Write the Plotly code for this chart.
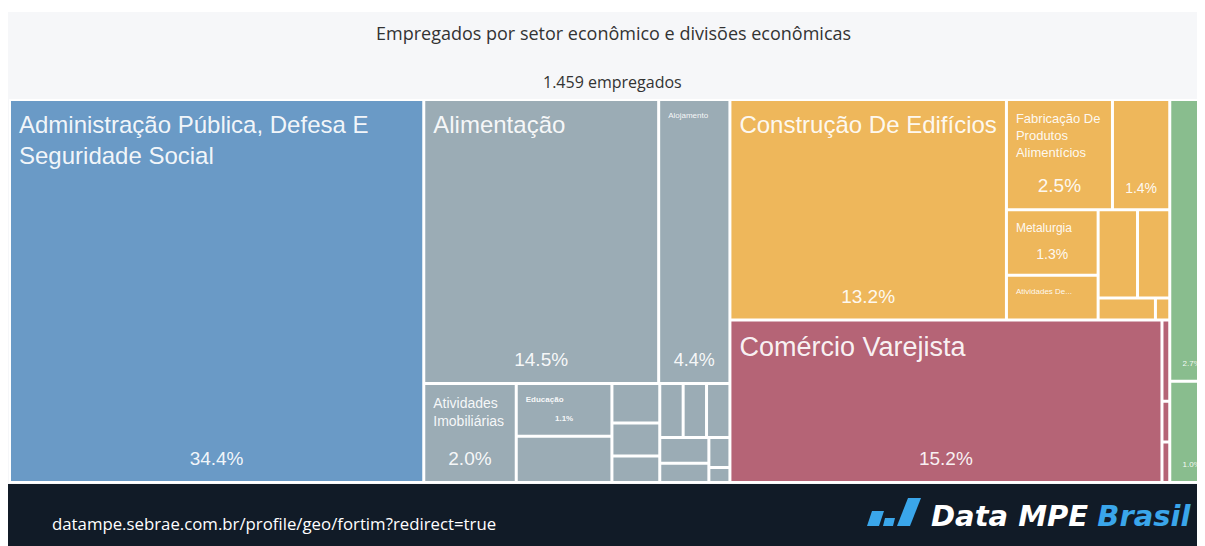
import plotly.graph_objects as go

# ---------------- dados ----------------
# setores econômicos (nível 1)
setores = ["Administração Pública", "Serviços", "Indústria", "Comércio", "Agropecuária"]

# seção intermediária dentro de Serviços
grupos = ["Alojamento e Alimentação"]
grupos_pai = ["Serviços"]

# divisões econômicas (folhas): nome, pai, número de empregados
divisoes = [
    "Administração Pública, Defesa E Seguridade Social",
    "Alimentação", "Alojamento",
    "Atividades Imobiliárias", "Educação",
    "Serviços - divisão 6", "Serviços - divisão 7", "Serviços - divisão 8",
    "Serviços - divisão 9", "Serviços - divisão 10", "Serviços - divisão 11",
    "Serviços - divisão 12", "Serviços - divisão 13", "Serviços - divisão 14",
    "Serviços - divisão 15", "Serviços - divisão 16",
    "Construção De Edifícios", "Fabricação De Produtos Alimentícios",
    "Indústria - divisão 3", "Metalurgia", "Atividades De...",
    "Indústria - divisão 6", "Indústria - divisão 7", "Indústria - divisão 8",
    "Indústria - divisão 9",
    "Comércio Varejista", "Comércio - divisão 2", "Comércio - divisão 3",
    "Comércio - divisão 4",
    "Agropecuária - divisão 1", "Agropecuária - divisão 2",
]
divisoes_pai = (
    ["Administração Pública"]
    + ["Alojamento e Alimentação"] * 2
    + ["Serviços"] * 13
    + ["Indústria"] * 9
    + ["Comércio"] * 4
    + ["Agropecuária"] * 2
)
empregados = [
    502,
    211, 64,
    29, 16, 14, 6, 5, 4, 4, 4, 4, 4, 3, 2, 1,
    193, 37, 20, 19, 13, 11, 9, 4, 1,
    222, 2, 1, 1,
    39, 14,
]

titulo = "Empregados por setor econômico e divisões econômicas"
total = sum(empregados)
subtitulo = f"{total:,} empregados".replace(",", ".")
rodape = "datampe.sebrae.com.br/profile/geo/fortim?redirect=true"

# ---------------- estilo ----------------
cores_setor = {
    "Administração Pública": "#6a9ac6",
    "Serviços": "#9bacb5",
    "Indústria": "#eeb75b",
    "Comércio": "#b56476",
    "Agropecuária": "#89bd8e",
}
# rótulo exibido (com quebras) e tamanho da fonte
rotulo_exibido = {
    "Administração Pública, Defesa E Seguridade Social": ("Administração Pública, Defesa E<br>Seguridade Social", 24),
    "Alimentação": ("Alimentação", 24),
    "Alojamento": ("Alojamento", 8),
    "Atividades Imobiliárias": ("Atividades<br>Imobiliárias", 14),
    "Educação": ("<b>Educação</b>", 8),
    "Construção De Edifícios": ("Construção De Edifícios", 24),
    "Fabricação De Produtos Alimentícios": ("Fabricação De<br>Produtos<br>Alimentícios", 13),
    "Metalurgia": ("Metalurgia", 12),
    "Atividades De...": ("Atividades De...", 8),
    "Comércio Varejista": ("Comércio Varejista", 27),
}
# percentual na base do retângulo (tamanho da fonte)
pct_embaixo = {
    "Administração Pública, Defesa E Seguridade Social": 19,
    "Alimentação": 19,
    "Alojamento": 18,
    "Atividades Imobiliárias": 19,
    "Educação": 8,
    "Construção De Edifícios": 19,
    "Fabricação De Produtos Alimentícios": 19,
    "Indústria - divisão 3": 14,
    "Metalurgia": 14,
    "Comércio Varejista": 19,
    "Agropecuária - divisão 1": 8,
    "Agropecuária - divisão 2": 8,
}

# a página tem 8 px de margem: coordenadas abaixo já são da figura
W, H = 1213, 546


def px(x):
    return x / W


def py(y):
    return 1 - y / H


# ---------------- nós da árvore ----------------
ids = setores + grupos + divisoes
parents = [""] * len(setores) + grupos_pai + divisoes_pai
values = [0] * (len(setores) + len(grupos)) + empregados

pai_de = dict(zip(ids, parents))


def setor_de(no):
    while pai_de[no] != "":
        no = pai_de[no]
    return no


cores = [cores_setor[setor_de(n)] for n in ids]
valor_de = dict(zip(divisoes, empregados))

texto1, tam1, texto2, tam2 = [], [], [], []
for n in ids:
    pct = f"{valor_de[n] / total * 100:.1f}%" if n in valor_de else ""
    rot, tam = rotulo_exibido.get(n, ("", 10))
    texto1.append(rot)
    tam1.append(tam)
    texto2.append(f"<b>{pct}</b>" if n == "Educação" else (pct if n in pct_embaixo else ""))
    tam2.append(pct_embaixo.get(n, 10))

# área do treemap (x 2..1205, y 92..474); as camadas de texto usam a
# mesma área deslocada, para afastar os textos das bordas
x0, x1, y0, y1 = 2, 1205, 92, 474


def dominio(dx=0, dy=0):
    return dict(x=[px(x0 + dx), px(x1 + dx)], y=[py(y1 + dy), py(y0 + dy)])


comum = dict(
    ids=ids, labels=ids, parents=parents, values=values,
    branchvalues="remainder", sort=True,
    tiling=dict(packing="squarify", squarifyratio=1.55, pad=1),
    pathbar=dict(visible=False),
    root=dict(color="rgba(0,0,0,0)"),
)
transparente = dict(colors=["rgba(0,0,0,0)"] * len(ids), line=dict(width=0),
                    pad=dict(t=0, l=0, r=0, b=0), depthfade=False)
fonte_txt = "Liberation Sans, Arial, sans-serif"
cor_txt = "rgba(255,255,255,0.93)"

fig = go.Figure()

# retângulos
fig.add_trace(go.Treemap(
    **comum, domain=dominio(),
    marker=dict(colors=cores, line=dict(color="white", width=2),
                pad=dict(t=0, l=0, r=0, b=0), depthfade=False),
    textinfo="none",
    hovertemplate="%{label}<br>%{value} empregados<extra></extra>",
))

# nomes no canto superior esquerdo
fig.add_trace(go.Treemap(
    **comum, domain=dominio(6, 8), marker=transparente,
    text=texto1, texttemplate="%{text}", textposition="top left",
    textfont=dict(family=fonte_txt, size=tam1, color=cor_txt),
    hoverinfo="skip",
))

# percentuais na base de cada retângulo
fig.add_trace(go.Treemap(
    **comum, domain=dominio(0, -10), marker=transparente,
    text=texto2, texttemplate="%{text}", textposition="bottom center",
    textfont=dict(family=fonte_txt, size=tam2, color=cor_txt),
    hoverinfo="skip",
))

# fundo do painel e rodapé
shapes = [
    dict(type="rect", xref="paper", yref="paper", x0=0, x1=1, y0=py(476), y1=py(4),
         fillcolor="#f6f7f9", line=dict(width=0), layer="below"),
    dict(type="rect", xref="paper", yref="paper", x0=0, x1=1, y0=0, y1=py(476),
         fillcolor="#111b27", line=dict(width=0), layer="below"),
]
# ícone de barras do logo
barras = [
    [(859, 518), (871, 518), (876, 503), (864, 503)],
    [(875, 518), (885, 518), (887, 510), (877, 510)],
    [(889, 518), (902, 518), (913, 490), (900, 490)],
]
for b in barras:
    caminho = "M " + " L ".join(f"{px(x):.5f},{py(y):.5f}" for x, y in b) + " Z"
    shapes.append(dict(type="path", xref="paper", yref="paper", path=caminho,
                       fillcolor="#3aa6ea", line=dict(width=0)))

anotacoes = [
    dict(text=titulo, x=px(605), y=py(25), font=dict(family="Open Sans", size=18, color="#333333")),
    dict(text=subtitulo, x=px(604), y=py(74), font=dict(family="Open Sans", size=16, color="#333333")),
    dict(text=rodape, x=px(42), y=py(515), xanchor="left",
         font=dict(family="Open Sans", size=16.8, color="#ffffff")),
    dict(text="<b><i>Data MPE</i></b> <b><i><span style='color:#3aa6ea'>Brasil</span></i></b>",
         x=px(921), y=py(508), xanchor="left",
         font=dict(family="DejaVu Sans", size=29, color="#ffffff")),
]
for a in anotacoes:
    a.update(xref="paper", yref="paper", yanchor="middle", showarrow=False)

fig.update_layout(
    width=W, height=H,
    margin=dict(l=0, r=0, t=0, b=0),
    paper_bgcolor="white",
    showlegend=False,
    shapes=shapes,
    annotations=anotacoes,
)

fig.write_html("out.html")
